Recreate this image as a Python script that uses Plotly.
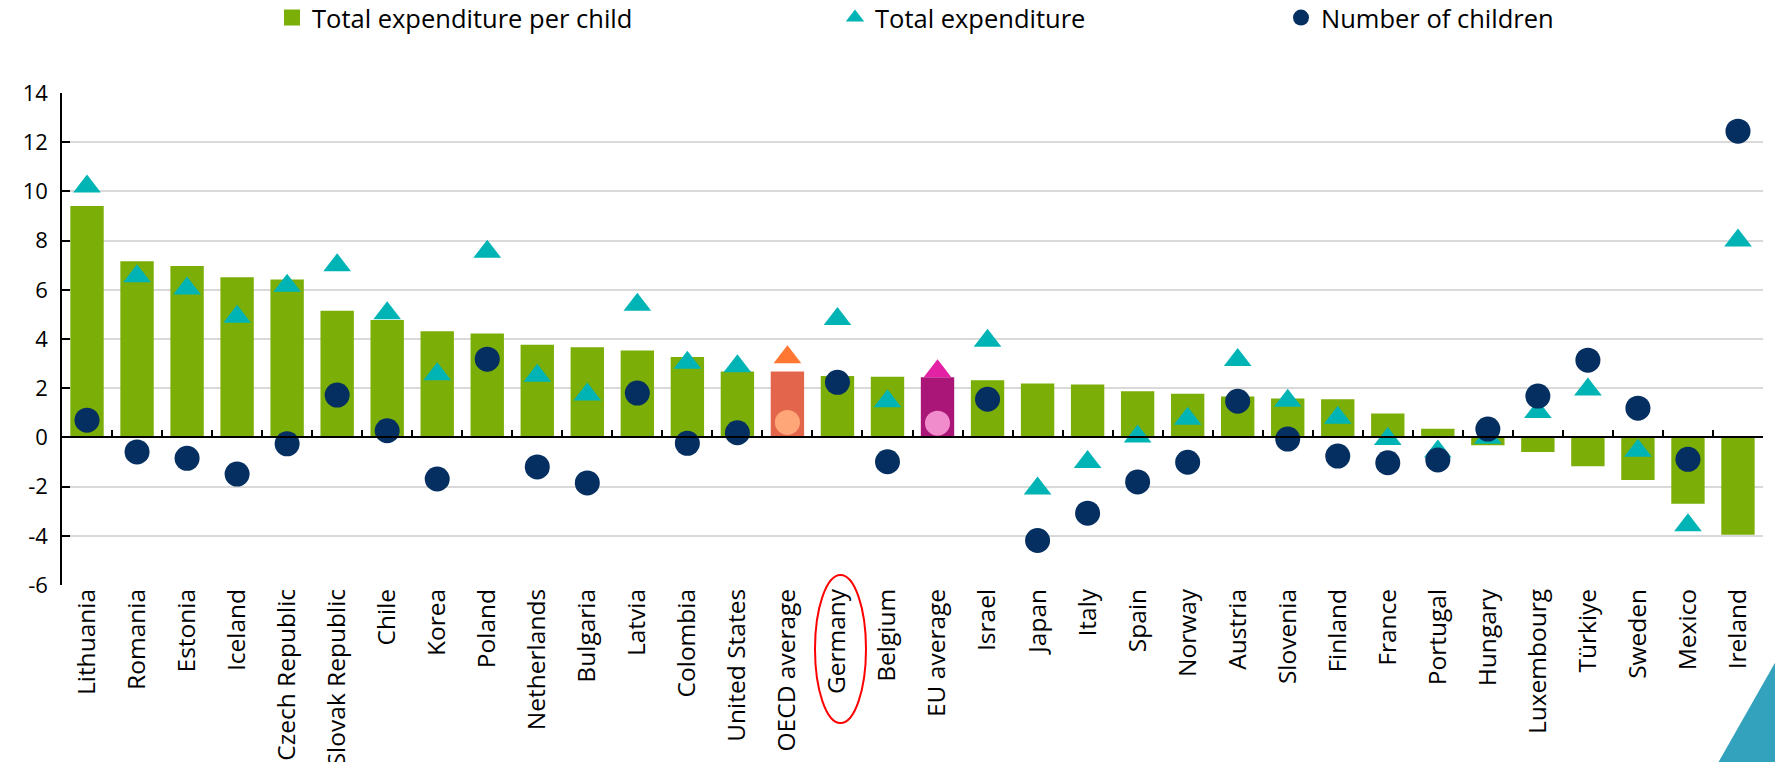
import plotly.graph_objects as go

# ---------------- data ----------------
countries = ["Lithuania", "Romania", "Estonia", "Iceland", "Czech Republic", "Slovak Republic",
             "Chile", "Korea", "Poland", "Netherlands", "Bulgaria", "Latvia", "Colombia",
             "United States", "OECD average", "Germany", "Belgium", "EU average", "Israel",
             "Japan", "Italy", "Spain", "Norway", "Austria", "Slovenia", "Finland", "France",
             "Portugal", "Hungary", "Luxembourg", "Türkiye", "Sweden", "Mexico", "Ireland"]

exp_per_child = [9.41, 7.16, 6.97, 6.51, 6.42, 5.15, 4.77, 4.32, 4.22, 3.77, 3.66, 3.53, 3.27,
                 2.68, 2.68, 2.50, 2.47, 2.45, 2.32, 2.19, 2.15, 1.88, 1.77, 1.66, 1.58, 1.55,
                 0.97, 0.35, -0.32, -0.59, -1.17, -1.73, -2.70, -3.96]

total_exp = [10.20, 6.55, 6.05, 4.90, 6.16, 7.00, 5.05, 2.57, 7.55, 2.51, 1.74, 5.39, 3.03,
             2.89, 3.26, 4.81, 1.47, 2.69, 3.93, -2.08, -1.00, 0.04, 0.76, 3.15, 1.49, 0.80,
             -0.07, -0.57, -0.01, 1.03, 1.95, -0.54, -3.57, 8.00]

num_children = [0.70, -0.59, -0.85, -1.49, -0.26, 1.72, 0.27, -1.69, 3.18, -1.20, -1.85, 1.80,
                -0.24, 0.19, 0.61, 2.24, -0.99, 0.58, 1.55, -4.19, -3.08, -1.81, -1.01, 1.47,
                -0.07, -0.76, -1.03, -0.92, 0.34, 1.68, 3.14, 1.19, -0.89, 12.45]

y_tick_vals = [-6, -4, -2, 0, 2, 4, 6, 8, 10, 12, 14]
y_tick_text = ["-6", "-4", "-2", "0", "2", "4", "6", "8", "10", "12", "14"]

series_names = ["Total expenditure per child", "Total expenditure", "Number of children"]

# ---------------- styles ----------------
GREEN = "#7BAE07"
TEAL = "#00B4B6"
NAVY = "#052F60"
special_bar = {"OECD average": "#E3654C", "EU average": "#A91677"}
special_tri = {"OECD average": "#FF7733", "EU average": "#E221A5"}
special_dot = {"OECD average": "#FFA678", "EU average": "#F08CCC"}

bar_colors = [special_bar.get(c, GREEN) for c in countries]
tri_colors = [special_tri.get(c, TEAL) for c in countries]
dot_colors = [special_dot.get(c, NAVY) for c in countries]

FONT = "Open Sans"
W, H = 1775, 762
ML, MR, MT, MB = 62, 12, 93, 177
PW, PH = W - ML - MR, H - MT - MB

def px_x(p):
    return (p - ML) / PW

def px_y(p):
    return (H - MB - p) / PH

fig = go.Figure()

fig.add_trace(go.Bar(
    x=countries, y=exp_per_child, marker=dict(color=bar_colors, line=dict(width=0)),
    name=series_names[0], showlegend=False, hoverinfo="x+y"))

fig.add_trace(go.Scatter(
    x=countries, y=total_exp, mode="markers", name=series_names[1],
    marker=dict(symbol="triangle-up", size=24, color=tri_colors, line=dict(width=0)),
    legend="legend2"))

fig.add_trace(go.Scatter(
    x=countries, y=num_children, mode="markers", name=series_names[2],
    marker=dict(symbol="circle", size=25, color=dot_colors, line=dict(width=0)),
    legend="legend3"))

# legend proxy for the bar series (square swatch)
fig.add_trace(go.Scatter(
    x=[None], y=[None], mode="markers", name=series_names[0],
    marker=dict(symbol="square", size=17, color=GREEN), legend="legend"))

# helper trace for the zero-crossing category axis
fig.add_trace(go.Scatter(
    x=countries, y=exp_per_child, mode="markers", xaxis="x2",
    marker=dict(opacity=0), showlegend=False, hoverinfo="skip"))

leg_common = dict(orientation="h", yanchor="middle", xanchor="left",
                  font=dict(family=FONT, size=25.5, color="#000000"),
                  bgcolor="rgba(0,0,0,0)", itemwidth=30, tracegroupgap=0)

fig.update_layout(
    width=W, height=H,
    margin=dict(l=ML, r=MR, t=MT, b=MB, autoexpand=False),
    paper_bgcolor="white", plot_bgcolor="white",
    font=dict(family=FONT, color="#000000"),
    bargap=0.333,
    legend=dict(x=px_x(272), y=px_y(18), **leg_common),
    legend2=dict(x=px_x(835), y=px_y(18), **leg_common),
    legend3=dict(x=px_x(1281), y=px_y(18), **leg_common),
    xaxis=dict(range=[-0.5, len(countries) - 0.5], showgrid=False, showline=False,
               ticks="", tickangle=-90, tickfont=dict(family=FONT, size=24.5, color="#000000"),
               ticklabelstandoff=-2, automargin=False),
    xaxis2=dict(overlaying="x", matches="x", anchor="free", position=0.3,
                range=[-0.5, len(countries) - 0.5],
                showline=True, linecolor="#000000", linewidth=2,
                ticks="inside", tickson="boundaries", ticklen=6, tickwidth=1.5,
                tickcolor="#000000", showticklabels=False, showgrid=False),
    yaxis=dict(range=[-6, 14], tickvals=y_tick_vals, ticktext=y_tick_text,
               showline=True, linecolor="#000000", linewidth=1.5,
               ticks="inside", ticklen=8, tickwidth=1.5, tickcolor="#000000",
               showgrid=True, gridcolor="#D9D9D9", gridwidth=2, zeroline=False,
               tickfont=dict(family=FONT, size=22, color="#000000"),
               ticklabelstandoff=8, automargin=False),
    shapes=[
        # red ellipse around the Germany label
        dict(type="circle", xref="paper", yref="paper",
             x0=px_x(815), x1=px_x(866), y0=px_y(723), y1=px_y(575),
             line=dict(color="#FF0000", width=2), fillcolor="rgba(0,0,0,0)"),
        # decorative corner triangle
        dict(type="path", xref="paper", yref="paper",
             path=f"M {px_x(1718)},{px_y(763)} L {px_x(1776)},{px_y(763)} L {px_x(1776)},{px_y(661)} Z",
             fillcolor="#33A2BC", line=dict(width=0)),
    ],
)

fig.write_html("out.html",
               config={"displayModeBar": False},
               post_script="document.body.style.margin='0';document.body.style.overflow='hidden';")
